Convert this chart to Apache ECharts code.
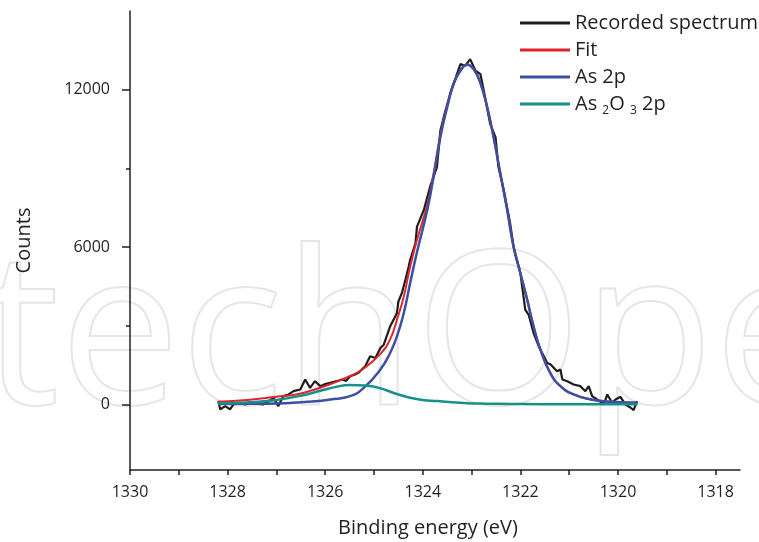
<!DOCTYPE html>
<html>
<head>
<meta charset="utf-8">
<script src="https://cdn.jsdelivr.net/npm/echarts@6/dist/echarts.min.js"></script>
<style>
  html, body { margin: 0; padding: 0; background: #fff; }
  #chart { width: 759px; height: 542px; }
</style>
</head>
<body>
<div id="chart"></div>
<script>
// binding energy (eV), counts
var spectrum = [
  [1328.19, 127], [1328.15, -190], [1328.05, -63], [1327.95, -190], [1327.88, 0],
  [1327.76, 60], [1327.64, 0], [1327.55, 80], [1327.47, 63], [1327.37, 20],
  [1327.27, 0], [1327.16, 120], [1327.06, 253], [1326.96, -63], [1326.86, 316],
  [1326.75, 380], [1326.65, 506], [1326.51, 570], [1326.41, 950], [1326.31, 633],
  [1326.21, 886], [1326.10, 696], [1326.00, 780], [1325.90, 823], [1325.76, 886],
  [1325.66, 950], [1325.57, 900], [1325.49, 1076], [1325.40, 1130], [1325.32, 1203],
  [1325.18, 1456], [1325.08, 1835], [1324.97, 1772], [1324.87, 2152], [1324.80, 2278],
  [1324.67, 2975], [1324.60, 3228], [1324.53, 3481], [1324.50, 3924], [1324.43, 4241],
  [1324.35, 4800], [1324.29, 5253], [1324.26, 5506], [1324.15, 6139], [1324.12, 6772],
  [1323.98, 7405], [1323.85, 8300], [1323.71, 9051], [1323.64, 10443], [1323.55, 11100],
  [1323.44, 11835], [1323.30, 12595], [1323.23, 12975], [1323.13, 12911], [1323.03, 13165],
  [1322.92, 12722], [1322.82, 12595], [1322.75, 11962], [1322.62, 10696], [1322.51, 10190],
  [1322.45, 9051], [1322.34, 8165], [1322.21, 6899], [1322.14, 6013], [1322.00, 5000],
  [1321.90, 3608], [1321.83, 3418], [1321.73, 2722], [1321.62, 2200], [1321.52, 1835],
  [1321.45, 1582], [1321.38, 1519], [1321.25, 1266], [1321.18, 1330], [1321.14, 950],
  [1321.04, 886], [1320.91, 760], [1320.77, 696], [1320.67, 506], [1320.60, 696],
  [1320.53, 316], [1320.43, 190], [1320.29, 0], [1320.22, 380], [1320.12, 63],
  [1320.05, 190], [1319.95, 291], [1319.85, 0], [1319.74, -127], [1319.68, -215],
  [1319.61, 127]
];

var fitData = [
  [1328.2, 100], [1327.6, 170], [1327.0, 290], [1326.6, 380], [1326.3, 520],
  [1325.9, 770], [1325.5, 1076], [1325.21, 1370], [1324.87, 1930], [1324.67, 2480],
  [1324.53, 3230], [1324.39, 4110], [1324.26, 5250], [1324.12, 6270], [1323.91, 7600],
  [1323.78, 8800], [1323.64, 10280], [1323.5, 11380], [1323.37, 12250], [1323.23, 12740],
  [1323.09, 12960], [1322.96, 12790], [1322.82, 12250], [1322.68, 11330], [1322.55, 10190],
  [1322.41, 8800], [1322.27, 7405], [1322.14, 6013], [1322.0, 5000], [1321.86, 3990],
  [1321.73, 2975], [1321.59, 2090], [1321.39, 1205], [1321.18, 700], [1320.91, 385],
  [1320.56, 195], [1320.15, 105], [1319.6, 66]
];

var as2pData = [
  [1328.2, 15], [1327.6, 25], [1327.0, 40], [1326.6, 70], [1326.2, 120],
  [1325.9, 190], [1325.49, 315], [1325.21, 633], [1324.87, 1330], [1324.67, 1963],
  [1324.53, 2594], [1324.39, 3481], [1324.26, 4620], [1324.12, 5800], [1323.91, 7405],
  [1323.78, 8671], [1323.64, 10190], [1323.5, 11329], [1323.37, 12215], [1323.23, 12722],
  [1323.09, 12950], [1322.96, 12785], [1322.82, 12250], [1322.68, 11329], [1322.55, 10190],
  [1322.41, 8797], [1322.27, 7405], [1322.14, 6013], [1322.0, 5000], [1321.86, 3987],
  [1321.73, 2975], [1321.59, 2089], [1321.39, 1203], [1321.18, 696], [1320.91, 380],
  [1320.56, 190], [1320.15, 101], [1319.6, 63]
];

var as2o3Data = [
  [1328.2, 40], [1327.5, 80], [1327.0, 170], [1326.5, 330], [1326.1, 520],
  [1325.8, 660], [1325.5, 740], [1325.2, 720], [1324.9, 630], [1324.5, 380],
  [1324.1, 200], [1323.7, 127], [1323.0, 40], [1322.7, 30], [1322.0, 12],
  [1321.0, 6], [1319.6, 5]
];

var xTicks = [1318, 1319, 1320, 1321, 1322, 1323, 1324, 1325, 1326, 1327, 1328, 1329, 1330];
var xLabels = [1318, 1320, 1322, 1324, 1326, 1328, 1330];
var yLabels = [0, 6000, 12000];
var yMinorTicks = [3000, 9000];

var seriesNames = ['Recorded spectrum', 'Fit', 'As 2p', 'As2O3 2p'];
var seriesColors = ['#1d1d1b', '#e3232b', '#3c4fa3', '#15918a'];

var chart = echarts.init(document.getElementById('chart'));
var fontFamily = '"Open Sans", sans-serif';
var textColor = '#231f20';

function lineSeries(i, data, width) {
  return {
    name: seriesNames[i],
    type: 'line',
    data: data,
    smooth: i > 0,
    symbol: 'none',
    lineStyle: { color: seriesColors[i], width: width },
    itemStyle: { color: seriesColors[i] },
    emphasis: { disabled: true }
  };
}

function plainNumber(v) {
  return String(v);
}

var option = {
  animation: false,
  textStyle: { fontFamily: fontFamily },
  // faint publisher watermark behind the plot
  graphic: [{
    type: 'text',
    left: -210,
    top: 234,
    z: -10,
    silent: true,
    style: {
      text: 'IntechOpen',
      font: '215px ' + fontFamily,
      fill: 'none',
      stroke: '#e6e6e6',
      lineWidth: 2
    }
  }],
  grid: { left: 130, right: 19, top: 11, bottom: 72, containLabel: false, outerBoundsMode: 'none' },
  legend: {
    orient: 'vertical',
    left: 520,
    top: 13,
    padding: 0,
    icon: 'rect',
    itemWidth: 50,
    itemHeight: 3,
    itemGap: 7,
    data: seriesNames,
    textStyle: {
      fontFamily: fontFamily, fontSize: 20, color: textColor, lineHeight: 20,
      rich: {
        n: { fontFamily: fontFamily, fontSize: 20, color: textColor },
        s: { fontFamily: fontFamily, fontSize: 12, color: textColor, padding: [14, 0, 0, 0] }
      }
    },
    formatter: function (name) {
      if (name === 'As2O3 2p') return '{n|As }{s|2}{n|O }{s|3}{n| 2p}';
      return name;
    }
  },
  xAxis: {
    type: 'value',
    inverse: true,
    min: 1317.5,
    max: 1330,
    name: 'Binding energy (eV)',
    nameLocation: 'middle',
    nameGap: 48,
    nameTextStyle: { fontFamily: fontFamily, fontSize: 20, color: textColor, padding: [0, 14, 0, 0] },
    splitLine: { show: false },
    axisLine: { onZero: false, lineStyle: { color: textColor, width: 1.5 } },
    axisTick: { customValues: xTicks, length: 5, lineStyle: { color: textColor, width: 1.5 } },
    axisLabel: { customValues: xLabels, formatter: plainNumber, margin: 14, fontFamily: fontFamily, fontSize: 16, color: textColor }
  },
  yAxis: [{
    type: 'value',
    min: -2500,
    max: 15000,
    name: 'Counts',
    nameLocation: 'middle',
    nameGap: 96,
    nameTextStyle: { fontFamily: fontFamily, fontSize: 20, color: textColor },
    splitLine: { show: false },
    axisLine: { show: true, onZero: false, lineStyle: { color: textColor, width: 1.5 } },
    axisTick: { show: true, customValues: yLabels, length: 8, lineStyle: { color: textColor, width: 1.5 } },
    axisLabel: { customValues: yLabels, formatter: plainNumber, margin: 20, fontFamily: fontFamily, fontSize: 16, color: textColor }
  }, {
    type: 'value',
    position: 'left',
    min: -2500,
    max: 15000,
    splitLine: { show: false },
    axisLine: { show: false },
    axisTick: { show: true, customValues: yMinorTicks, length: 4, lineStyle: { color: textColor, width: 1.5 } },
    axisLabel: { show: false }
  }],
  series: [
    lineSeries(0, spectrum, 2.2),
    lineSeries(1, fitData, 2),
    lineSeries(2, as2pData, 2.5),
    lineSeries(3, as2o3Data, 2.5)
  ]
};

chart.setOption(option);
</script>
</body>
</html>
